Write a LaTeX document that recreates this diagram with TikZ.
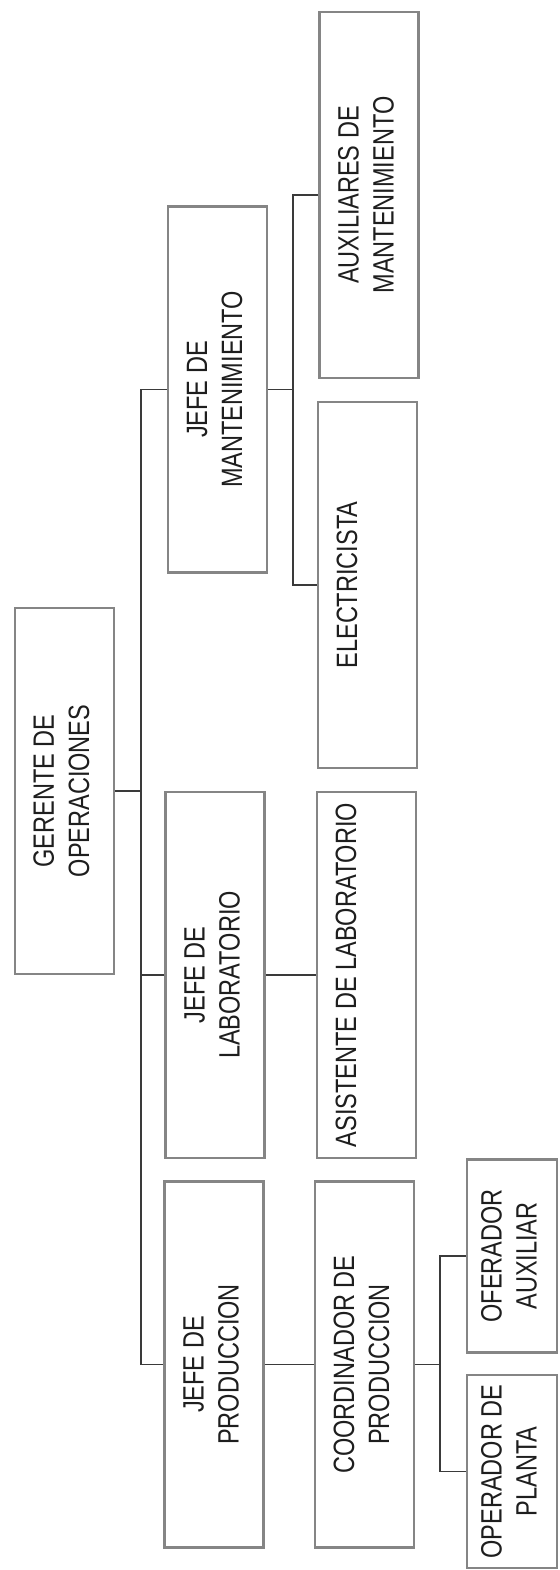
\documentclass[tikz,border=0pt]{standalone}
\usepackage{fontspec}
\setmainfont[FakeStretch=0.8]{Liberation Sans}
\definecolor{boxgray}{HTML}{858585}
\definecolor{linkgray}{HTML}{3A3A3A}
\definecolor{txtgray}{HTML}{1E1E1E}
\newcommand{\vtxt}[1]{\rotatebox{90}{\begin{tabular}{@{}c@{}}#1\end{tabular}}}
\begin{document}
\begin{tikzpicture}[x=0.5pt, y=-0.5pt,
    box/.style={draw=boxgray, line width=1.4pt, fill=white, inner sep=0pt,
        minimum width=49.5pt, minimum height=183pt, text=txtgray,
        font=\fontsize{14.7}{17.5}\selectfont},
    small/.style={box, minimum width=45pt, minimum height=96.5pt},
    link/.style={draw=linkgray, line width=0.7pt}]
    \useasboundingbox (0,0) rectangle (559,1570);
    \node[box] (1) at (64.5, 791) {\vtxt{GERENTE DE\\OPERACIONES}};
    \node[box] (2) at (214, 1364.5) {\vtxt{JEFE DE\\PRODUCCION}};
    \node[box] (3) at (215, 975) {\vtxt{JEFE DE\\LABORATORIO}};
    \node[box] (4) at (217.5, 389.5) {\vtxt{JEFE DE\\MANTENIMIENTO}};
    \node[box] (5) at (364.5, 1364.5) {\vtxt{COORDINADOR DE\\PRODUCCION}};
    \node[box] (6) at (366.5, 975) {\vtxt{ASISTENTE DE LABORATORIO\\ ~}};
    \node[box] (7) at (367.5, 585) {\vtxt{ELECTRICISTA\\ ~}};
    \node[box] (8) at (369, 195) {\vtxt{AUXILIARES DE\\MANTENIMIENTO}};
    \node[small] (9) at (512, 1471.5) {\vtxt{OPERADOR DE\\PLANTA}};
    \node[small] (10) at (512, 1256) {\vtxt{OFERADOR\\AUXILIAR}};
    \coordinate (t) at (141, 0);
    \coordinate (m) at (293, 0);
    \coordinate (p) at (440, 0);
    \draw[link] (1.east) -- (1.east -| t);
    \draw[link] (4.west) -- (4.west -| t) -- (2.west -| t) -- (2.west);
    \draw[link] (3.west) -- (3.west -| t);
    \draw[link] (4.east) -- (4.east -| m);
    \draw[link] (8.west) -- (8.west -| m) -- (7.west -| m) -- (7.west);
    \draw[link] (3.east) -- (6.west);
    \draw[link] (2.east) -- (5.west);
    \draw[link] (5.east) -- (5.east -| p);
    \draw[link] (10.west) -- (10.west -| p) -- (9.west -| p) -- (9.west);
\end{tikzpicture}
\end{document}
